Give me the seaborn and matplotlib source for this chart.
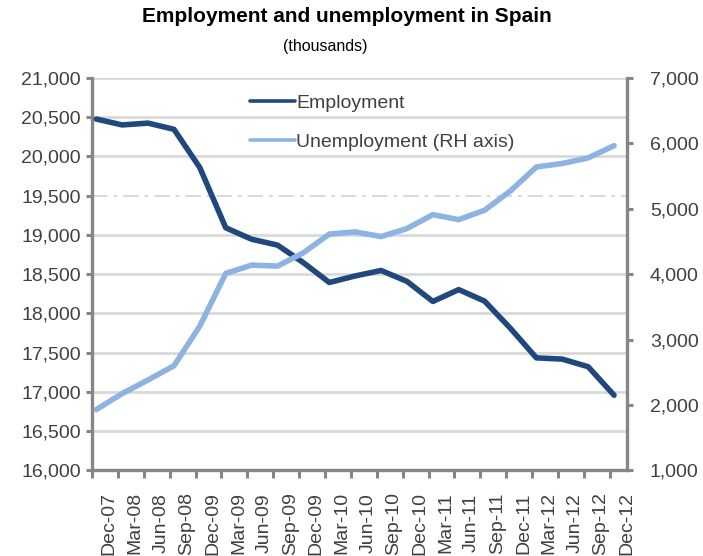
import numpy as np
import pandas as pd
import matplotlib
matplotlib.use("Agg")
import matplotlib.pyplot as plt
import seaborn as sns

# ---------------- data ----------------
quarters = ["Dec-07", "Mar-08", "Jun-08", "Sep-08", "Dec-09", "Mar-09", "Jun-09",
            "Sep-09", "Dec-09", "Mar-10", "Jun-10", "Sep-10", "Dec-10", "Mar-11",
            "Jun-11", "Sep-11", "Dec-11", "Mar-12", "Jun-12", "Sep-12", "Dec-12"]
employment = [20477, 20402, 20425, 20346, 19857, 19091, 18945, 18870, 18646, 18394,
              18477, 18547, 18408, 18152, 18303, 18156, 17808, 17433, 17417, 17320, 16957]
unemployment = [1928, 2174, 2382, 2599, 3208, 4011, 4138, 4123, 4327, 4613,
                4646, 4575, 4697, 4910, 4834, 4978, 5274, 5640, 5693, 5778, 5965]
left_ticks = list(range(16000, 21001, 500))
right_ticks = list(range(1000, 7001, 1000))

title = "Employment and unemployment in Spain"
subtitle = "(thousands)"

# ---------------- style ----------------
sns.set_style("white")
plt.rcParams["font.family"] = ["Liberation Sans", "DejaVu Sans"]
TXT = "#404040"
AXC = "#868686"
GRID = "#d9d9d9"
C_EMP = "#1F497D"
C_UNE = "#8DB3E2"

n = len(quarters)
# monthly slots: each quarter point sits in the middle of its month slot
month_pos = 3 * np.arange(n) + 0.5
df = pd.DataFrame({"x": month_pos, "Employment": employment,
                   "Unemployment (RH axis)": unemployment})

W, H = 703, 556
fig = plt.figure(figsize=(W / 100, H / 100), dpi=100)
ax = fig.add_axes([92 / W, 1 - 470.3 / H, 535 / W, 392.3 / H])
ax2 = ax.twinx()

sns.lineplot(data=df, x="x", y="Employment", ax=ax, color=C_EMP, linewidth=4.0,
             label="Employment", legend=False, zorder=3)
sns.lineplot(data=df, x="x", y="Unemployment (RH axis)", ax=ax2, color=C_UNE,
             linewidth=4.0, label="Unemployment (RH axis)", legend=False, zorder=3)

ax.set_xlim(0, 3 * n - 2)
ax.set_ylim(left_ticks[0], left_ticks[-1])
ax2.set_ylim(right_ticks[0], right_ticks[-1])

# y axes
ax.set_yticks(left_ticks)
ax.set_yticklabels([f"{v:,}" for v in left_ticks])
ax2.set_yticks(right_ticks)
ax2.set_yticklabels([f"{v:,}" for v in right_ticks])
ax.tick_params(axis="y", direction="out", length=4.5, width=2.2, color=AXC,
               labelsize=14, labelcolor=TXT, pad=3.5, left=True)
ax2.tick_params(axis="y", direction="out", length=4.5, width=2.2, color=AXC,
                labelsize=14, labelcolor=TXT, pad=12, right=True)

# x axis: tick marks every 3 months, labels in between
ax.set_xticks(3 * np.arange(n) + 2)
ax.set_xticklabels(quarters, rotation=90, va="center", ha="center")
ax.set_xticks(3 * np.arange(n), minor=True)
ax.tick_params(axis="x", which="major", length=0, labelsize=14, labelcolor=TXT, pad=38)
ax.tick_params(axis="x", which="minor", direction="out", length=6, width=2.2,
               color=AXC, bottom=True)
ax.set_xlabel("")
ax.set_ylabel("")
ax2.set_ylabel("")

# gridlines
ax.set_axisbelow(True)
ax.yaxis.grid(True, color=GRID, linewidth=2.0)
ax.xaxis.grid(False)
for val, gl in zip(left_ticks, ax.get_ygridlines()):
    if val == 19500:
        gl.set_linestyle((0, (8, 3, 2, 3)))
        gl.set_linewidth(1.4)

# spines
for a in (ax, ax2):
    a.spines["top"].set_visible(False)
    for s in ("left", "right", "bottom"):
        a.spines[s].set_color(AXC)
        a.spines[s].set_linewidth(2.4)
ax.spines["right"].set_visible(False)
ax2.spines["left"].set_visible(False)
ax2.spines["bottom"].set_visible(False)

# legend
h1, l1 = ax.get_legend_handles_labels()
h2, l2 = ax2.get_legend_handles_labels()
leg = ax2.legend(h1 + h2, l1 + l2, loc="upper left",
                 bbox_to_anchor=(250 / W, 1 - 94 / H), bbox_transform=fig.transFigure,
                 frameon=False, fontsize=14, handlelength=2.3, handletextpad=0.08,
                 labelspacing=1.13, borderpad=0, borderaxespad=0)
for t in leg.get_texts():
    t.set_color(TXT)
for ln in leg.get_lines():
    ln.set_linewidth(2.6)

# titles
fig.text(346.5 / W, 1 - 17 / H, title, ha="center", va="center",
         fontsize=15, fontweight="bold", color="black")
fig.text(325 / W, 1 - 46 / H, subtitle, ha="center", va="center",
         fontsize=11.5, color="black")

fig.savefig("out.png", dpi=100)
